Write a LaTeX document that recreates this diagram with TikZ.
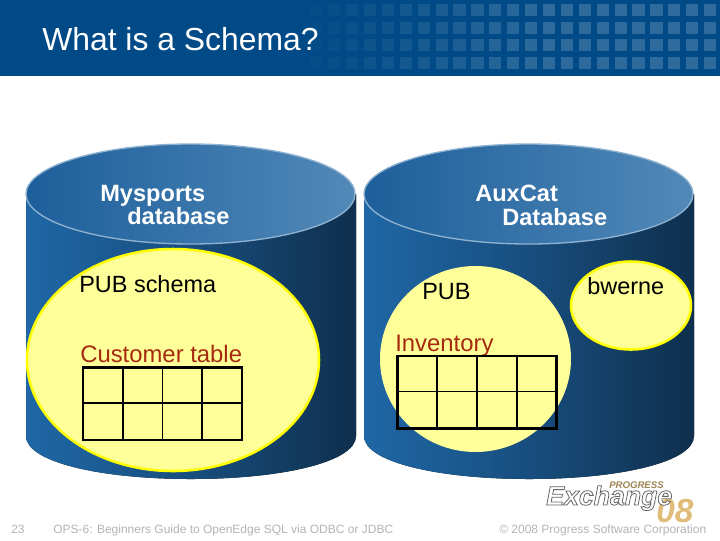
\documentclass[tikz,border=0pt]{standalone}
\usepackage{fontspec}
\setmainfont{Liberation Sans}
\usetikzlibrary{fadings,shadings}
\definecolor{band}{HTML}{004B87}
\definecolor{bodyl}{HTML}{1F67A6}
\definecolor{bodyr}{HTML}{0F2F4D}
\definecolor{topl}{HTML}{1D5F9B}
\definecolor{topr}{HTML}{5289B8}
\definecolor{topedge}{HTML}{8FB2D0}
\definecolor{schemafill}{HTML}{FFFF99}
\definecolor{schemaedge}{HTML}{FFFF00}
\definecolor{tablabel}{HTML}{A52A10}
\definecolor{foot}{HTML}{B4B4B4}
\definecolor{tan}{HTML}{E0BC78}
\tikzset{
  x=0.75pt,y=-0.75pt,
  dblabel/.style={text=white,font=\bfseries\fontsize{17.7}{17.7}\selectfont,inner sep=0pt,anchor=base west},
  lbl/.style={text=black,font=\fontsize{17.6}{17.6}\selectfont,inner sep=0pt,anchor=base west},
  tablbl/.style={text=tablabel,font=\fontsize{17.9}{17.9}\selectfont,inner sep=0pt,anchor=base west},
  footer/.style={text=foot,font=\fontsize{9}{9}\selectfont,inner sep=0pt,anchor=base west},
  schema/.style={fill=schemafill,draw=schemaedge,line width=1.9pt},
}
\newcommand{\dbcyl}[1]{%
  \fill[left color=bodyl,right color=bodyr,shading angle=90,middle color=bodyl!55!bodyr]
    (#1,194) -- (#1+330,194) -- (#1+330,436)
    .. controls (#1+330,462) and (#1+256,479) .. (#1+165,479)
    .. controls (#1+74,479) and (#1,462) .. (#1,436) -- cycle;
  \shade[left color=topl,right color=topr,draw=topedge,line width=1pt]
    (#1+164.5,194) ellipse [x radius=164.5,y radius=50];
}
\newcommand{\tablegrid}[2]{%
  \draw[black,line width=1.6pt] (#1,#2) rectangle ++(159,72.5);
  \foreach \k in {1,2,3}{\draw[black,line width=1.2pt] (#1+\k*39.75,#2) -- ++(0,72.5);}
  \draw[black,line width=1.2pt] (#1,#2+35.5) -- ++(159,0);
}
\begin{document}
\begin{tikzpicture}
\useasboundingbox (0,0) rectangle (720,540);
\fill[white] (0,0) rectangle (720,540);
\fill[band] (0,0) rectangle (720,76);
% title band squares
\foreach \c in {0,...,22}{
  \pgfmathsetmacro{\op}{min(0.18,0.01+0.17*\c/13)}
  \foreach \ry in {4,22,39,57}{
    \fill[white,opacity=\op] (310.2+\c*17.9,\ry) rectangle ++(12.2,12);
  }
}
\node[text=white,font=\fontsize{23.9}{23.9}\selectfont,inner sep=0pt,anchor=base west] (title) at (42,50) {What is a Schema?};

\dbcyl{26}
\dbcyl{364}

\node[dblabel] (mys) at (100,201) {Mysports};
\node[dblabel] (myd) at (127,224) {database};
\node[dblabel] (aux) at (475,201) {AuxCat};
\node[dblabel] (auxd) at (502,225) {Database};

% left schema
\fill[schema] (173,360) ellipse [x radius=146,y radius=111];
\node[lbl] (pubs) at (79,292) {PUB schema};
\node[tablbl] (cust) at (80,362) {Customer table};
\tablegrid{83}{367.5}

% right schemas
\fill[schemafill] (475.5,359) ellipse [x radius=95.5,y radius=93];
\fill[schema] (631,305.5) ellipse [x radius=60,y radius=44];
\node[lbl] (pub) at (422,299) {PUB};
\node[lbl] (bw) at (587,294) {bwerne};
\node[tablbl] (inv) at (395,351) {Inventory};
\tablegrid{397.5}{356}

% footer
\node[text=foot,font=\fontsize{9}{9}\selectfont,inner sep=0pt,anchor=base] (num) at (18,533) {23};
\node[footer] (ops) at (53,533) {OPS-6: Beginners Guide to OpenEdge SQL via ODBC or JDBC};
\node[footer] (copy) at (499,533) {© 2008 Progress Software Corporation};

% logo
\node[text=tan,font=\bfseries\itshape\fontsize{25}{25}\selectfont,inner sep=0pt,anchor=base west] (yr) at (656,522) {08};
\node[text=tan!70!black,font=\bfseries\itshape\fontsize{7.2}{7.2}\selectfont,inner sep=0pt,anchor=base west] (prog) at (609,488) {PROGRESS};
\node[text=white,font=\bfseries\itshape\fontsize{20}{20}\selectfont,inner sep=0pt,anchor=base west] (exch) at (546,505)
  {\special{pdf:literal q 2 Tr 0.4 0.4 0.4 RG 0.6 w}Exchange\special{pdf:literal Q}};
\end{tikzpicture}
\end{document}
